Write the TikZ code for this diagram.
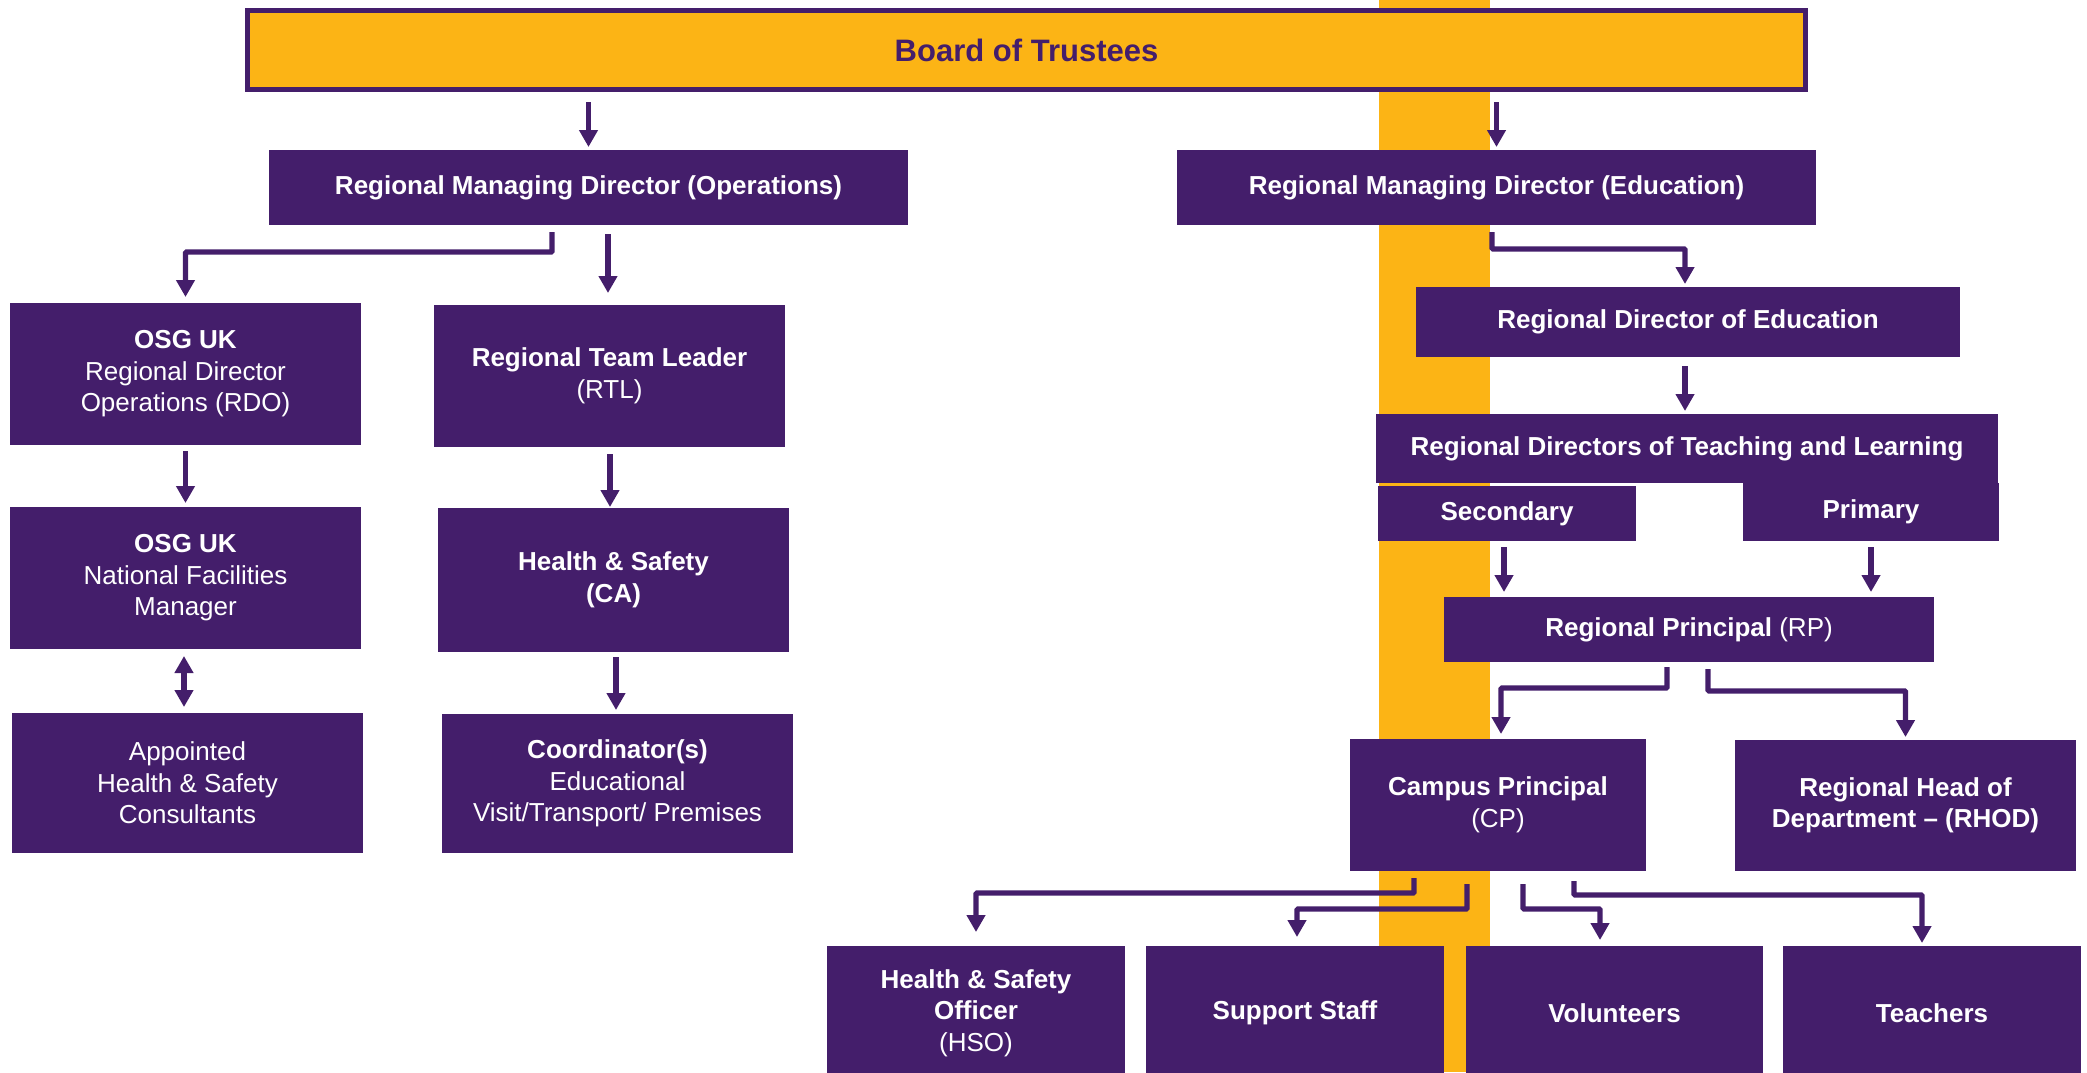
\documentclass[tikz,border=0pt]{standalone}
\usepackage{fontspec}
\setmainfont{Liberation Sans}
\usetikzlibrary{arrows.meta,calc}
\definecolor{osgpurple}{HTML}{441E6B}
\definecolor{osgorange}{HTML}{FCB415}
\begin{document}
\begin{tikzpicture}[x=1pt,y=-1pt,
  box/.style={fill=osgpurple, text=white, inner sep=0pt, outer sep=0pt, align=center,
    font=\fontsize{26}{31.5}\selectfont},
  conn/.style={draw=osgpurple, line width=5.3pt, -{Triangle[length=17pt,width=18pt]},
    rounded corners=1pt}]
\useasboundingbox (0,0) rectangle (2087,1072);
\clip (0,0) rectangle (2087,1072);
% orange vertical band
\fill[osgorange] (1379,0) rectangle (1490,1072);

% top
\node[draw=osgpurple, line width=5pt, fill=osgorange, minimum width=1558pt, minimum height=79pt,
  inner sep=0pt, text=osgpurple, font=\fontsize{31}{37}\selectfont\bfseries] (board) at (1026.5,50) {Board of Trustees};

\node[box, minimum width=639pt, minimum height=75pt] (rmdo) at (588.5,187.5) {\textbf{Regional Managing Director (Operations)}};
\node[box, minimum width=639pt, minimum height=75pt] (rmde) at (1496.5,187.5) {\textbf{Regional Managing Director (Education)}};

% operations side
\node[box, minimum width=351pt, minimum height=142pt] (rdo) at (185.5,374) {\textbf{OSG UK}\\Regional Director\\Operations (RDO)};
\node[box, minimum width=351pt, minimum height=142pt] (rtl) at (609.5,376) {\textbf{Regional Team Leader}\\(RTL)};
\node[box, minimum width=351pt, minimum height=142pt] (nfm) at (185.5,578) {\textbf{OSG UK}\\National Facilities\\Manager};
\node[box, minimum width=351pt, minimum height=144pt] (hs) at (613.5,580) {\textbf{Health \& Safety}\\\textbf{(CA)}};
\node[box, minimum width=351pt, minimum height=140pt] (app) at (187.5,783) {Appointed\\Health \& Safety\\Consultants};
\node[box, minimum width=351pt, minimum height=139pt] (coord) at (617.5,783.5) {\textbf{Coordinator(s)}\\Educational\\Visit/Transport/ Premises};

% education side
\node[box, minimum width=544pt, minimum height=70pt] (rde) at (1688,322) {\textbf{Regional Director of Education}};
\node[box, minimum width=622pt, minimum height=69pt] (rdtl) at (1687,448.5) {\textbf{Regional Directors of Teaching and Learning}};
\node[box, minimum width=258pt, minimum height=55pt] (sec) at (1507,513.5) {\textbf{Secondary}};
\node[box, minimum width=256pt, minimum height=58pt] (prim) at (1871,512) {\textbf{Primary}};
\node[box, minimum width=490pt, minimum height=65pt] (rp) at (1689,629.5) {\textbf{Regional Principal} (RP)};
\node[box, minimum width=296pt, minimum height=132pt] (cp) at (1498,805) {\textbf{Campus Principal}\\(CP)};
\node[box, minimum width=341pt, minimum height=131pt] (rhod) at (1905.5,805.5) {\textbf{Regional Head of}\\\textbf{Department -- (RHOD)}};

% bottom row
\node[box, minimum width=298pt, minimum height=134pt] (hso) at (976,1013) {\textbf{Health \& Safety}\\\textbf{Officer}\\(HSO)};
\node[box, minimum width=298pt, minimum height=134pt] (sup) at (1295,1013) {\textbf{Support Staff}};
\node[box, minimum width=297pt, minimum height=134pt] (vol) at (1614.5,1013) {\textbf{Volunteers}};
\node[box, minimum width=298pt, minimum height=134pt] (tea) at (1932,1013) {\textbf{Teachers}};

% connectors
\draw[conn, shorten >=3pt] ($(rmdo.north |- board.south)+(0pt,-10pt)$) -- (rmdo.north);
\draw[conn, shorten >=3pt] ($(rmde.north |- board.south)+(0pt,-10pt)$) -- (rmde.north);
\draw[conn, shorten >=6pt] ($(rmdo.south)+(-36.5pt,-7pt)$) -- ++(0pt,-20pt) -| (rdo.north);
\draw[conn, shorten >=12pt] ($(rtl.north |- rmdo.south)+(-1.5pt,-9pt)$) -- ($(rtl.north)+(-1.5pt,0pt)$);
\draw[conn, shorten >=4pt] ($(rdo.south)+(0pt,-6pt)$) -- (nfm.north);
\draw[conn, {Triangle[length=17pt,width=18pt]}-{Triangle[length=17pt,width=18pt]}, shorten <=7pt, shorten >=6pt]
  ($(nfm.south)+(-1.5pt,0pt)$) -- ($(nfm.south |- app.north)+(-1.5pt,0pt)$);
\draw[conn, shorten >=1pt] ($(rtl.south)+(0.5pt,-7pt)$) -- ($(rtl.south |- hs.north)+(0.5pt,0pt)$);
\draw[conn, shorten >=4pt] ($(coord.north |- hs.south)+(-1.5pt,-5pt)$) -- ($(coord.north)+(-1.5pt,0pt)$);

\draw[conn, shorten >=3pt] ($(rmde.south)+(-4.5pt,-7pt)$) -- ++(0pt,-17pt) -| ($(rde.north)+(-3pt,0pt)$);
\draw[conn, shorten >=3pt] ($(rde.south)+(-3pt,-9pt)$) -- ($(rde.south |- rdtl.north)+(-3pt,0pt)$);
\draw[conn, shorten >=5pt] ($(sec.south)+(-3pt,-6pt)$) -- ($(sec.south |- rp.north)+(-3pt,0pt)$);
\draw[conn, shorten >=5pt] ($(prim.south)+(0pt,-6pt)$) -- (prim.south |- rp.north);
\draw[conn, shorten >=5pt] ($(rp.south)+(-22pt,-5pt)$) -- ++(0pt,-21pt) -| ($(cp.north)+(3pt,0pt)$);
\draw[conn, shorten >=3pt] ($(rp.south)+(19pt,-7pt)$) -- ++(0pt,-22pt) -| (rhod.north);

\draw[conn, shorten >=14pt] ($(cp.south)+(-84pt,-7pt)$) -- ++(0pt,-15pt) -| (hso.north);
\draw[conn, shorten >=9pt] ($(cp.south)+(-31pt,-13pt)$) -- ++(0pt,-25pt) -| ($(sup.north)+(2pt,0pt)$);
\draw[conn, shorten >=6pt] ($(cp.south)+(25pt,-13pt)$) -- ++(0pt,-25pt) -| ($(vol.north)+(-14.5pt,0pt)$);
\draw[conn, shorten >=3pt] ($(cp.south)+(76pt,-10pt)$) -- ++(0pt,-14pt) -| ($(tea.north)+(-10pt,0pt)$);
\end{tikzpicture}
\end{document}
